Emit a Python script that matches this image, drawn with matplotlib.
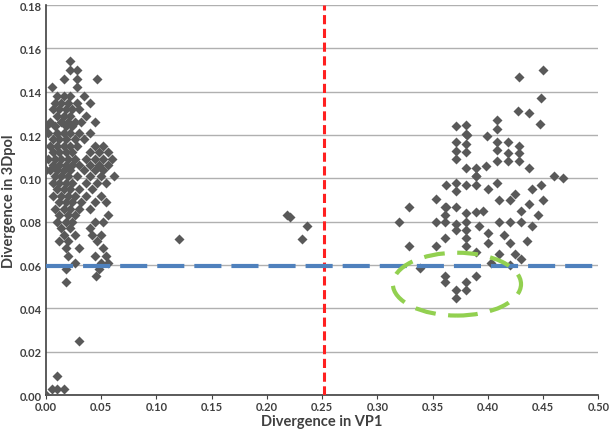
import numpy as np
import matplotlib.pyplot as plt
from matplotlib.patches import Ellipse

# left cluster, stored row by row: (y, [x values])
left_rows = [
    (0.154, [0.022]), (0.150, [0.022, 0.028]), (0.146, [0.016, 0.028, 0.046]),
    (0.142, [0.005, 0.028]), (0.138, [0.010, 0.016, 0.022, 0.034]),
    (0.135, [0.008, 0.014, 0.020, 0.028, 0.040]),
    (0.132, [0.006, 0.012, 0.018, 0.024, 0.030]),
    (0.129, [0.010, 0.016, 0.022, 0.036]),
    (0.126, [0.004, 0.014, 0.020, 0.026, 0.032, 0.044]),
    (0.124, [0.000, 0.008, 0.018, 0.024]),
    (0.121, [0.002, 0.010, 0.016, 0.022, 0.030, 0.040]),
    (0.118, [0.006, 0.012, 0.018, 0.026, 0.034]),
    (0.115, [0.004, 0.010, 0.016, 0.022, 0.028, 0.044, 0.052]),
    (0.112, [0.006, 0.012, 0.018, 0.024, 0.040, 0.048, 0.056]),
    (0.109, [0.002, 0.008, 0.014, 0.020, 0.026, 0.036, 0.044, 0.052, 0.060]),
    (0.106, [0.006, 0.012, 0.018, 0.024, 0.030, 0.040, 0.048, 0.056]),
    (0.104, [0.000, 0.004, 0.010, 0.016, 0.022, 0.034, 0.044, 0.052]),
    (0.101, [0.008, 0.014, 0.020, 0.028, 0.040, 0.050, 0.062]),
    (0.098, [0.006, 0.012, 0.018, 0.024, 0.036, 0.046, 0.054]),
    (0.095, [0.010, 0.016, 0.022, 0.030, 0.042]),
    (0.092, [0.006, 0.014, 0.020, 0.026, 0.036, 0.050]),
    (0.089, [0.012, 0.018, 0.024, 0.032, 0.044, 0.054]),
    (0.086, [0.008, 0.016, 0.022, 0.030, 0.040]),
    (0.083, [0.012, 0.020, 0.026, 0.056]),
    (0.080, [0.010, 0.018, 0.024, 0.044, 0.052]),
    (0.077, [0.014, 0.022, 0.040]),
    (0.074, [0.016, 0.026, 0.042, 0.050]),
    (0.071, [0.012, 0.020, 0.046]),
    (0.068, [0.018, 0.030, 0.052]),
    (0.064, [0.020, 0.044, 0.054]),
    (0.061, [0.026, 0.050, 0.056]),
    (0.058, [0.018, 0.048]),
    (0.055, [0.045]),
    (0.052, [0.018]),
    (0.025, [0.030]),
    (0.009, [0.010]),
    (0.003, [0.005, 0.010, 0.016]),
    (0.000, [0.000]),
]

# isolated points in the middle
mid_x = [0.120, 0.218, 0.221, 0.232, 0.236]
mid_y = [0.072, 0.083, 0.082, 0.072, 0.078]

# right cluster
right_x = [0.329, 0.320, 0.329, 0.353, 0.353, 0.361, 0.361, 0.361, 0.361, 0.371,
           0.371, 0.371, 0.380, 0.380, 0.380, 0.380, 0.380, 0.389, 0.389, 0.339,
           0.361, 0.361, 0.371, 0.371, 0.380, 0.380, 0.389,
           0.371, 0.380, 0.380, 0.371, 0.380, 0.371, 0.380, 0.371, 0.380, 0.389,
           0.389, 0.362, 0.371, 0.371, 0.380, 0.389, 0.353, 0.362,
           0.428, 0.427, 0.437, 0.381, 0.399, 0.408, 0.408, 0.408, 0.408, 0.418,
           0.418, 0.428, 0.428, 0.418, 0.428, 0.408, 0.437, 0.389, 0.398, 0.408,
           0.450, 0.448, 0.447, 0.460, 0.468, 0.448,
           0.400, 0.410, 0.420, 0.430, 0.430, 0.440, 0.450, 0.440, 0.420, 0.410,
           0.400, 0.400, 0.410, 0.420, 0.425, 0.392, 0.396, 0.430, 0.420, 0.403,
           0.437, 0.445, 0.415, 0.425, 0.435]
right_y = [0.087, 0.080, 0.069, 0.080, 0.069, 0.087, 0.083, 0.080, 0.0725, 0.087,
           0.079, 0.076, 0.084, 0.080, 0.076, 0.0725, 0.069, 0.0845, 0.066, 0.0585,
           0.055, 0.052, 0.0485, 0.045, 0.052, 0.0485, 0.055,
           0.124, 0.1245, 0.1205, 0.117, 0.116, 0.1125, 0.112, 0.109, 0.105, 0.105,
           0.101, 0.097, 0.098, 0.094, 0.097, 0.097, 0.0905, 0.087,
           0.1467, 0.131, 0.130, 0.120, 0.1195, 0.127, 0.123, 0.1168, 0.113, 0.1168,
           0.1117, 0.115, 0.1117, 0.108, 0.108, 0.108, 0.1048, 0.101, 0.1057, 0.0978,
           0.150, 0.137, 0.125, 0.101, 0.100, 0.097,
           0.095, 0.090, 0.090, 0.085, 0.080, 0.078, 0.090, 0.095, 0.080, 0.080,
           0.075, 0.070, 0.065, 0.070, 0.065, 0.078, 0.085, 0.063, 0.060, 0.061,
           0.088, 0.083, 0.074, 0.093, 0.071]

xticks = [0.00, 0.05, 0.10, 0.15, 0.20, 0.25, 0.30, 0.35, 0.40, 0.45, 0.50]
yticks = [0.00, 0.02, 0.04, 0.06, 0.08, 0.10, 0.12, 0.14, 0.16, 0.18]

left_x = [x for y, xs in left_rows for x in xs]
left_y = [y for y, xs in left_rows for x in xs]
all_x = left_x + mid_x + right_x
all_y = left_y + mid_y + right_y

plt.rcParams['font.family'] = ['Lato', 'DejaVu Sans']
fig = plt.figure(figsize=(6.09, 4.31), dpi=100)
ax = fig.add_axes([0.0755, 0.081, 0.907, 0.905])

ax.scatter(all_x, all_y, marker='D', s=26, color='#595959', zorder=3, linewidths=0)

ax.axvline(0.252, color='#ff2020', ls=(0, (3, 1.5)), lw=2.2, zorder=4)
ax.axhline(0.0595, color='#4f81bd', ls=(0, (6.5, 2.4)), lw=3, zorder=4)
ax.add_patch(Ellipse((0.372, 0.0512), 0.116, 0.029, fill=False,
                     ec='#92d050', lw=3, ls=(0, (5, 3)), zorder=5))

ax.set_xlim(0, 0.5)
ax.set_ylim(0, 0.18)
ax.set_xticks(xticks)
ax.set_yticks(yticks)
ax.set_xticklabels(['%.2f' % v for v in xticks], fontsize=8, fontweight='bold', color='#404040')
ax.set_yticklabels(['%.2f' % v for v in yticks], fontsize=8, fontweight='bold', color='#404040')
ax.grid(axis='y', color='#b0b0b0', lw=1)
ax.set_axisbelow(True)
for s in ['top', 'right']:
    ax.spines[s].set_visible(False)
for s in ['left', 'bottom']:
    ax.spines[s].set_color('#404040')
    ax.spines[s].set_linewidth(1.2)
ax.tick_params(axis='y', length=0, pad=3)
ax.tick_params(axis='x', length=3, direction='out', color='#404040', pad=1.5)
ax.set_xlabel('Divergence in VP1', fontsize=10.5, fontweight='bold', color='#404040', labelpad=1)
ax.set_ylabel('Divergence in 3Dpol', fontsize=10.5, fontweight='bold', color='#404040', labelpad=3)

fig.savefig('out.png', dpi=100)
